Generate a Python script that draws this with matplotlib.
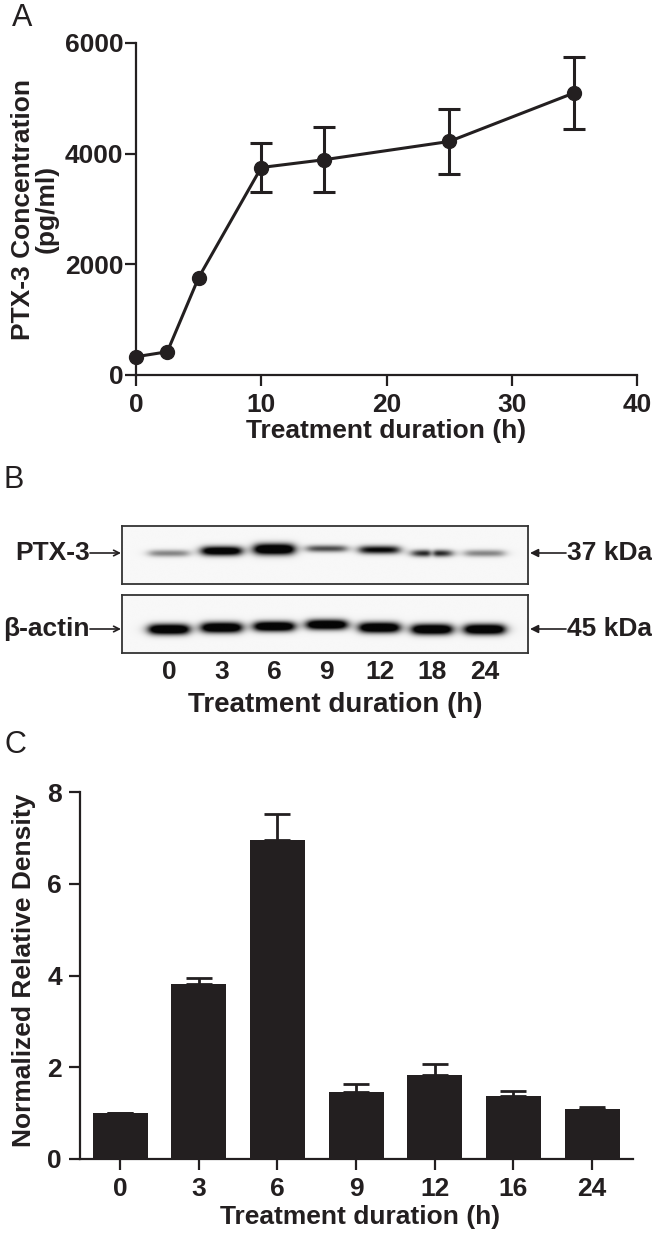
import numpy as np
import matplotlib
matplotlib.use('Agg')
import matplotlib.pyplot as plt

plt.rcParams['font.family'] = ['Liberation Sans', 'DejaVu Sans']
plt.rcParams['font.weight'] = 'bold'

INK = '#231f20'
W, H = 652, 1241

# Panel A: PTX-3 concentration vs treatment duration
time_a = np.array([0, 2.5, 5, 10, 15, 25, 35])
conc_a = np.array([330, 420, 1760, 3750, 3890, 4220, 5100])
err_a = np.array([0, 0, 0, 450, 590, 580, 650])

# Panel B: western blot, one entry per lane
lane_labels_b = ['0', '3', '6', '9', '12', '18', '24']
ptx3_level = [0.32, 0.9, 1.0, 0.48, 0.7, 0.6, 0.32]
ptx3_row = [0.48, 0.44, 0.41, 0.40, 0.42, 0.48, 0.48]
ptx3_thick = [0.06, 0.08, 0.095, 0.06, 0.07, 0.06, 0.06]
ptx3_gap = [0, 0, 0, 0, 0, 0.5, 0]
actin_level = [1.0, 1.0, 1.0, 1.0, 1.0, 1.0, 1.0]
actin_row = [0.60, 0.57, 0.55, 0.52, 0.57, 0.60, 0.60]
actin_thick = [0.09, 0.09, 0.085, 0.085, 0.09, 0.09, 0.09]

# Panel C: normalized densitometry
cats_c = ['0', '3', '6', '9', '12', '16', '24']
density_c = np.array([1.0, 3.81, 6.96, 1.45, 1.83, 1.38, 1.09])
err_c = np.array([0, 0.13, 0.56, 0.18, 0.25, 0.10, 0.04])


def fx(px):
    return px / W


def fy(py):
    return 1 - py / H


def style_axis(ax, pad_y, pad_x):
    for side in ['top', 'right']:
        ax.spines[side].set_visible(False)
    for side in ['left', 'bottom']:
        ax.spines[side].set_linewidth(1.6)
        ax.spines[side].set_color(INK)
    ax.tick_params(axis='both', length=8, width=1.6, color=INK,
                   labelsize=19, labelcolor=INK)
    ax.tick_params(axis='y', pad=pad_y)
    ax.tick_params(axis='x', pad=pad_x)


def blot_image(levels, rows, thick, gaps, xlim, nx=800, ny=120):
    # paint soft bands on a light background
    xs = np.linspace(xlim[0], xlim[1], nx)
    ys = np.linspace(0, 1, ny)
    X, Y = np.meshgrid(xs, ys)
    dark = np.zeros_like(X)
    for k in range(len(levels)):
        half = 0.37
        px = 1.0 / (1.0 + np.exp((np.abs(X - k) - half) / 0.06))
        py = np.exp(-((Y - rows[k]) / thick[k]) ** 2)
        notch = 1 - gaps[k] * np.exp(-((X - k) / 0.07) ** 2)
        dark += levels[k] * 1.5 * px * py * notch
    dark = np.clip(dark, 0, 1)
    return 0.97 - 0.95 * dark


def panel_a(fig):
    ax = fig.add_axes([fx(136), fy(375), fx(637) - fx(136), fy(43) - fy(375)])
    ax.plot(time_a, conc_a, '-o', color=INK, lw=2.2, ms=10, clip_on=False, zorder=3)
    show = err_a > 0
    ax.errorbar(time_a[show], conc_a[show], yerr=err_a[show], fmt='none',
                ecolor=INK, elinewidth=2.2, capsize=8, capthick=2.2, zorder=2)
    ax.set_xlim(0, 40)
    ax.set_ylim(0, 6000)
    ax.set_xticks([0, 10, 20, 30, 40])
    ax.set_yticks([0, 2000, 4000, 6000])
    style_axis(ax, 1, 5)
    fig.text(fx(386), fy(431), 'Treatment duration (h)', ha='center', va='center',
             fontsize=19, color=INK)
    fig.text(fx(35), fy(209), 'PTX-3 Concentration\n(pg/ml)', rotation=90,
             ha='center', va='center', fontsize=19, color=INK, linespacing=1.0)
    fig.text(fx(12), fy(18), 'A', fontsize=22, fontweight='normal', color=INK,
             ha='left', va='center')


def panel_b(fig):
    xlim = (-0.89, 6.82)
    rows = [
        (526, 584, ptx3_level, ptx3_row, ptx3_thick, ptx3_gap, 'PTX-3', '37 kDa', 553),
        (595, 653, actin_level, actin_row, actin_thick, [0] * 7, '\u03b2-actin', '45 kDa', 629),
    ]
    ax = None
    for top, bot, lev, row, thk, gap, name, size, yb in rows:
        ax = fig.add_axes([fx(122), fy(bot), fx(528) - fx(122), fy(top) - fy(bot)])
        img = blot_image(lev, row, thk, gap, xlim)
        ax.imshow(img, cmap='gray', vmin=0, vmax=1, aspect='auto',
                  extent=[xlim[0], xlim[1], 1, 0], interpolation='bilinear')
        ax.set_xlim(*xlim)
        ax.set_ylim(1, 0)
        ax.set_yticks([])
        ax.set_xticks([])
        for s in ax.spines.values():
            s.set_linewidth(1.3)
            s.set_color('#333333')
        fig.text(fx(90), fy(yb), name, ha='right', va='center', fontsize=19, color=INK)
        fig.add_artist(plt.Annotation('', xy=(fx(121), fy(yb)), xytext=(fx(90), fy(yb)),
                                      xycoords='figure fraction',
                                      arrowprops=dict(arrowstyle='->', lw=1.2, color=INK,
                                                      shrinkA=0, shrinkB=0)))
        fig.add_artist(plt.Annotation('', xy=(fx(530), fy(yb)), xytext=(fx(566), fy(yb)),
                                      xycoords='figure fraction',
                                      arrowprops=dict(arrowstyle='-|>', lw=1.2, color=INK,
                                                      mutation_scale=12,
                                                      shrinkA=0, shrinkB=0)))
        fig.text(fx(567), fy(yb), size, ha='left', va='center', fontsize=19, color=INK)
    # lane labels under the lower blot
    ax.set_xticks(range(len(lane_labels_b)))
    ax.set_xticklabels(lane_labels_b, fontsize=19, color=INK)
    ax.tick_params(axis='x', length=0, pad=5)
    fig.text(fx(335), fy(705), 'Treatment duration (h)', ha='center', va='center',
             fontsize=20, color=INK)
    fig.text(fx(4), fy(480), 'B', fontsize=22, fontweight='normal', color=INK,
             ha='left', va='center')


def panel_c(fig):
    ax = fig.add_axes([fx(80), fy(1159), fx(633) - fx(80), fy(792) - fy(1159)])
    pos = np.arange(len(cats_c))
    ax.bar(pos, density_c, width=0.7, color=INK, zorder=2)
    ax.errorbar(pos, density_c, yerr=[np.zeros_like(err_c), err_c], fmt='none',
                ecolor=INK, elinewidth=2, capsize=9.5, capthick=2, zorder=3)
    ax.set_xlim(-0.51, 6.52)
    ax.set_ylim(0, 8)
    ax.set_yticks([0, 2, 4, 6, 8])
    ax.set_xticks(pos)
    ax.set_xticklabels(cats_c)
    style_axis(ax, 5, 5)
    fig.text(fx(360), fy(1217), 'Treatment duration (h)', ha='center', va='center',
             fontsize=19, color=INK)
    fig.text(fx(24), fy(970), 'Normalized Relative Density', rotation=90,
             ha='center', va='center', fontsize=19, color=INK)
    fig.text(fx(4), fy(745), 'C', fontsize=22, fontweight='normal', color=INK,
             ha='left', va='center')


def main():
    fig = plt.figure(figsize=(W / 100, H / 100), dpi=100)
    panel_a(fig)
    panel_b(fig)
    panel_c(fig)
    fig.savefig('out.png', dpi=100, facecolor='white')


if __name__ == '__main__':
    main()
